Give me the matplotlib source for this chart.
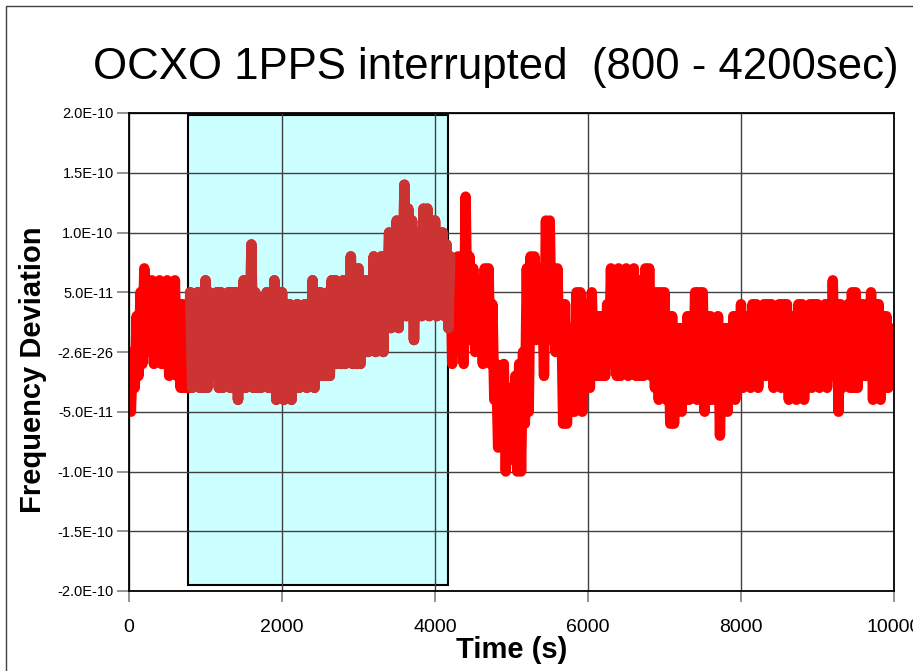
import numpy as np
import matplotlib
matplotlib.use('Agg')
import matplotlib.pyplot as plt
from matplotlib.patches import Rectangle

plt.rcParams['font.family'] = ['Liberation Sans', 'DejaVu Sans']

# sample spacing in seconds, values in units of 1E-11
step = 25
dev_e11 = [
    -1, -5, 0, -3, 3, -2, 5, -1, 7, 0, 6, 1, 6, -1, 5, 0, 6, -1, 5, -1,
    6, -2, 5, -1, 6, -2, 4, -3, 4, -3, 3, -3, 5, -3, 4, -2, 5, -3, 4, -3,
    6, -3, 5, -2, 4, -2, 5, -3, 5, -3, 4, -2, 5, -3, 5, -3, 5, -4, 4, -3,
    6, -3, 5, -2, 9, -3, 5, -3, 4, -3, 3, -2, 5, -3, 4, -3, 6, -4, 5, -3,
    5, -4, 4, -3, 4, -4, 3, -3, 4, -3, 3, -2, 4, -3, 4, -2, 6, -3, 5, -2,
    5, -2, 4, -2, 5, -2, 6, -1, 6, -1, 5, -1, 6, -1, 5, 0, 8, -1, 5, -1,
    7, -1, 6, 0, 6, 0, 5, 1, 8, 0, 7, 1, 8, 0, 7, 2, 10, 2, 9, 3,
    11, 2, 10, 3, 14, 3, 12, 4, 11, 1, 10, 3, 10, 3, 12, 4, 12, 3, 11, 4,
    11, 3, 10, 4, 10, 3, 9, 2, 8, -1, 7, 1, 8, 0, 7, -1, 13, 2, 8, 1,
    7, 0, 6, 1, 6, -1, 7, 0, 7, -1, 4, -4, -1, -8, -2, -6, -1, -10, -3, -9,
    -3, -9, -2, -10, -1, -10, 0, -6, 7, -5, 8, 1, 8, 1, 7, 2, 6, -2, 11, 1,
    11, 1, 7, 0, 7, 0, 4, -6, 4, -6, 2, -5, 2, -5, 5, -4, 5, -5, 4, -3,
    4, -3, 5, -2, 3, -2, 3, -2, 3, -2, 4, -1, 7, -1, 6, -2, 7, -2, 6, -1,
    7, -2, 6, -1, 7, -2, 6, -2, 6, -2, 7, -1, 7, -2, 5, -3, 5, -4, 5, -3,
    5, -4, 3, -6, 3, -6, 2, -4, 2, -5, 2, -4, 3, -4, 3, -3, 5, -4, 5, -3,
    5, -5, 3, -4, 3, -4, 2, -3, 3, -7, 2, -4, 2, -5, 2, -3, 3, -4, 3, -3,
    4, -3, 3, -2, 3, -3, 4, -2, 4, -3, 3, -2, 4, -2, 4, -1, 4, -3, 3, -2,
    4, -3, 4, -2, 4, -4, 3, -3, 3, -4, 4, -3, 4, -4, 3, -2, 4, -3, 4, -2,
    4, -3, 3, -2, 4, -3, 4, -2, 6, -2, 4, -5, 4, -3, 3, -2, 4, -3, 5, -3,
    5, -3, 4, -2, 4, -2, 3, -2, 5, -4, 4, -3, 4, -4, 3, -3, 3, -3, 2, -1,
    -1,
]

t = np.arange(len(dev_e11)) * step
dev = np.array(dev_e11) * 1e-11

gap_start, gap_end = 800, 4200
box_left, box_right = 775, 4170
y_ticks = [-2.0e-10, -1.5e-10, -1.0e-10, -5.0e-11, 0.0, 5.0e-11, 1.0e-10, 1.5e-10, 2.0e-10]
y_labels = ['-2.0E-10', '-1.5E-10', '-1.0E-10', '-5.0E-11', '-2.6E-26',
            '5.0E-11', '1.0E-10', '1.5E-10', '2.0E-10']
x_ticks = [0, 2000, 4000, 6000, 8000, 10000]

fig = plt.figure(figsize=(9.13, 6.71), dpi=100)
ax = fig.add_axes([129 / 913, 1 - 591 / 671, (894 - 129) / 913, (591 - 113) / 671])

# interrupted window
ax.add_patch(Rectangle((box_left, -1.95e-10), box_right - box_left, 3.93e-10,
                       facecolor='#ccffff', edgecolor='black', linewidth=1.5, zorder=0.3))

ax.plot(t, dev, color='#ff0000', linewidth=7.5, solid_joinstyle='round',
        solid_capstyle='round', zorder=2)
inside = (t >= gap_start) & (t <= gap_end)
ax.plot(t[inside], dev[inside], color='#cc3333', linewidth=7.5, solid_joinstyle='round',
        solid_capstyle='round', zorder=2.1)

ax.set_xlim(0, 10000)
ax.set_ylim(-2.0e-10, 2.0e-10)
ax.set_xticks(x_ticks)
ax.set_yticks(y_ticks)
ax.set_yticklabels(y_labels)
ax.tick_params(axis='y', direction='out', length=9, width=1.2, color='#808080',
               labelsize=10.5, pad=2)
ax.tick_params(axis='x', direction='out', length=8, width=1.2, color='#808080',
               labelsize=14, pad=12)
ax.set_axisbelow(True)
ax.grid(True, color='#404040', linewidth=1)
for s in ax.spines.values():
    s.set_color('black')
    s.set_linewidth(1.3)

ax.set_xlabel('Time (s)', fontsize=21, fontweight='bold', labelpad=0)
ax.set_ylabel('Frequency Deviation', fontsize=21, fontweight='bold')
ax.yaxis.set_label_coords(-0.107, 0.462)

fig.text(496 / 913, 1 - 68 / 671, 'OCXO 1PPS interrupted  (800 - 4200sec)',
         fontsize=31.5, ha='center', va='center')

# frame around the chart
fig.add_artist(Rectangle((6 / 913, -0.1), 2.0, 1 - 6 / 671 + 0.1, transform=fig.transFigure,
                         fill=False, edgecolor='#404040', linewidth=1))

fig.savefig('out.png', dpi=100)
